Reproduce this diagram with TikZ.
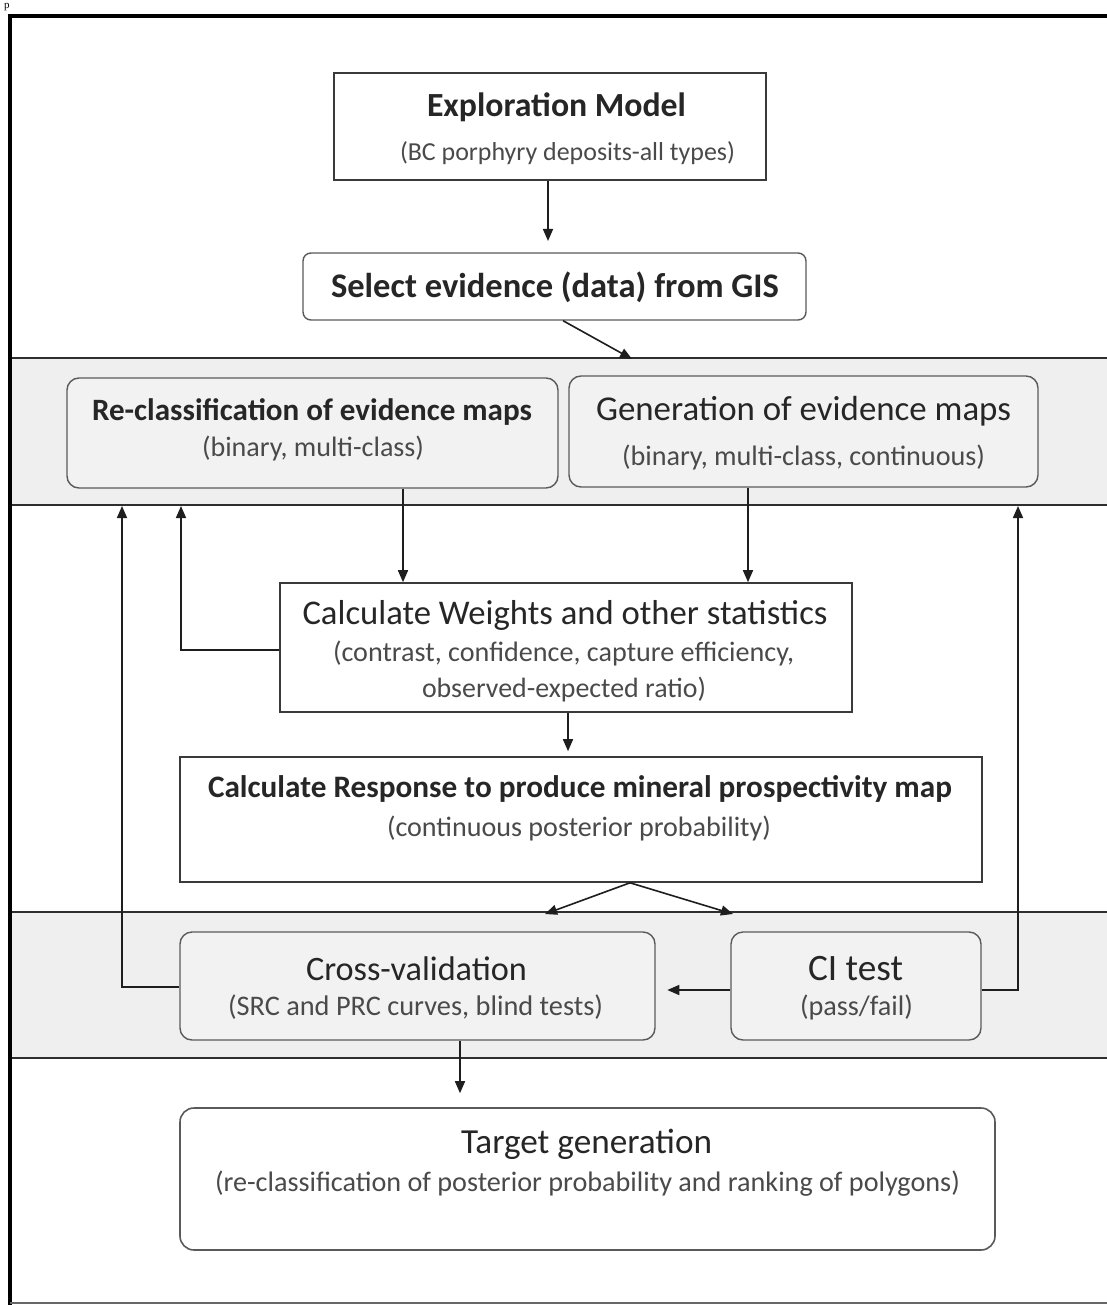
\documentclass[tikz,border=0pt]{standalone}
\usepackage{fontspec}
\setmainfont{Carlito}
\newfontfamily\serifp{Liberation Serif}
\usetikzlibrary{arrows.meta,calc}
\definecolor{ttlc}{HTML}{262626}
\definecolor{subc}{HTML}{4A4A4A}
\definecolor{boxc}{HTML}{3A3A3A}
\definecolor{rboxc}{HTML}{5A5A5A}
\definecolor{linec}{HTML}{1E1E1E}
\definecolor{bandc}{HTML}{2E2E2E}
\definecolor{bandfill}{HTML}{EFEFEF}
\definecolor{inbandfill}{HTML}{F2F2F2}
\newlength\fitlen
\newcommand\fitw[2]{\settowidth\fitlen{\fontsize{10}{12}\selectfont #2}%
  \pgfmathsetmacro\fitfs{10*#1/\fitlen}%
  {\fontsize{\fitfs}{\fitfs}\selectfont #2}}
\tikzset{
  sharpbox/.style={draw=boxc, line width=1.6pt, fill=white, inner sep=0pt},
  roundbox/.style={draw=rboxc, line width=1.4pt, rounded corners=12pt, fill=#1, inner sep=0pt},
  ttl/.style={text=ttlc, inner sep=0pt},
  subtxt/.style={text=subc, inner sep=0pt},
  conn/.style={draw=linec, line width=1.6pt, -{Triangle[length=12pt,width=10pt]}},
  bandline/.style={draw=bandc, line width=1.8pt},
}
\begin{document}
\begin{tikzpicture}[x=1pt,y=-1pt]
\useasboundingbox (0,0) rectangle (1107,1305);
\fill[white] (0,0) rectangle (1107,1305);
% stray glyph
\node[inner sep=0pt, anchor=north west] (pch) at (4,3) {\serifp\fontsize{11}{11}\selectfont p};
% bands
\fill[bandfill] (10,358) rectangle (1107,505);
\fill[bandfill] (10,912) rectangle (1107,1058);
\coordinate (b1l) at (10,358); \coordinate (b1r) at (1107,358);
\coordinate (b2l) at (10,505); \coordinate (b2r) at (1107,505);
\coordinate (b3l) at (10,912); \coordinate (b3r) at (1107,912);
\coordinate (b4l) at (10,1058); \coordinate (b4r) at (1107,1058);
\draw[bandline] (b1l) -- (b1r);
\draw[bandline] (b2l) -- (b2r);
\draw[bandline] (b3l) -- (b3r);
\draw[bandline] (b4l) -- (b4r);
% outer frame
\draw[black, line width=4pt] (1107,16) -- (10,16) -- (10,1305);
\draw[black!60, line width=1.5pt] (10,1303) -- (1107,1303);

% boxes
\node[sharpbox, minimum width=432pt, minimum height=107pt] (expl) at (550,126.5) {};
\node[roundbox=white, rounded corners=8pt, minimum width=503pt, minimum height=67pt] (sel) at (554.5,286.5) {};
\node[roundbox=inbandfill, minimum width=491pt, minimum height=110pt] (rc) at (312.5,433) {};
\node[roundbox=inbandfill, minimum width=469pt, minimum height=111pt] (gen) at (803.5,431.5) {};
\node[sharpbox, minimum width=572pt, minimum height=129pt] (wts) at (566,647.5) {};
\node[sharpbox, minimum width=802pt, minimum height=125pt] (resp) at (581,819.5) {};
\node[roundbox=inbandfill, minimum width=475pt, minimum height=108pt] (cv) at (417.5,986) {};
\node[roundbox=inbandfill, minimum width=250pt, minimum height=108pt] (ci) at (856,986) {};
\node[roundbox=white, line width=1.6pt, rounded corners=14pt, minimum width=815pt, minimum height=142pt] (tg) at (587.5,1179) {};

% texts
\node[ttl] (t1) at (556.5,107) {\fitw{259}{\bfseries Exploration Model}};
\node[subtxt] (s1) at (567.5,153) {\fitw{335}{(BC porphyry deposits-all types)}};
\node[ttl] (t2) at (555,287) {\fitw{448}{\bfseries Select evidence (data) from GIS}};
\node[ttl] (t3) at (312,412) {\fitw{440}{\bfseries Re-classification of evidence maps}};
\node[subtxt] (s3) at (313,448) {\fitw{222}{(binary, multi-class)}};
\node[ttl] (t4) at (803.5,411) {\fitw{415}{Generation of evidence maps}};
\node[subtxt] (s4) at (803.5,457) {\fitw{363}{(binary, multi-class, continuous)}};
\node[ttl] (t5) at (565,615) {\fitw{525}{Calculate Weights and other statistics}};
\node[subtxt] (s5a) at (563.5,653) {\fitw{461}{(contrast, confidence, capture efficiency,}};
\node[subtxt] (s5b) at (564,690) {\fitw{284}{observed-expected ratio)}};
\node[ttl] (t6) at (580,789) {\fitw{744}{\bfseries Calculate Response to produce mineral prospectivity map}};
\node[subtxt] (s6) at (579,828) {\fitw{384}{(continuous posterior probability)}};
\node[ttl] (t7) at (416.5,969) {\fitw{221}{Cross-validation}};
\node[subtxt] (s7) at (415.5,1007) {\fitw{375}{(SRC and PRC curves, blind tests)}};
\node[ttl] (t8) at (855.5,969) {\fitw{95}{CI test}};
\node[subtxt] (s8) at (856.5,1007) {\fitw{113}{(pass/fail)}};
\node[ttl] (t9) at (586.5,1144) {\fitw{251}{Target generation}};
\node[subtxt] (s9) at (587.5,1184) {\fitw{745}{(re-classification of posterior probability and ranking of polygons)}};

% connectors
\coordinate (e1) at (548,241);
\draw[conn] (expl.south -| e1) -- (e1);
\coordinate (e2) at (632,359);
\coordinate (a0) at ($(sel.south)+(8.5,0)$);
\draw[conn] (a0) -- (e2);
\coordinate (a1) at ($(rc.south)+(90.5,0)$);
\draw[conn] (a1) -- (a1 |- wts.north);
\coordinate (a2) at ($(gen.south)+(-55.5,0)$);
\draw[conn] (a2) -- (a2 |- wts.north);
\coordinate (k1) at (181,506);
\draw[conn] (wts.west |- 0,650) -- (k1 |- 0,650) -- (k1);
\coordinate (k2) at (122,506);
\draw[conn] (cv.west |- 0,987) -- (k2 |- 0,987) -- (k2);
\coordinate (k3) at (1018,506);
\draw[conn] (ci.east |- 0,990) -- (k3 |- 0,990) -- (k3);
\coordinate (a3) at ($(wts.south)+(2,0)$);
\draw[conn, shorten >=5pt] (a3) -- (a3 |- resp.north);
\coordinate (d1) at (545,914);
\coordinate (d2) at (733,914);
\coordinate (a4) at ($(resp.south)+(49,0)$);
\draw[conn] (a4) -- (d1);
\draw[conn] (a4) -- (d2);
\draw[conn] (ci.west |- 0,990) -- ++(-63,0) coordinate (d3);
\coordinate (a5) at ($(cv.south)+(42.5,0)$);
\draw[conn, shorten >=14pt] (a5) -- (a5 |- tg.north);
\end{tikzpicture}
\end{document}
